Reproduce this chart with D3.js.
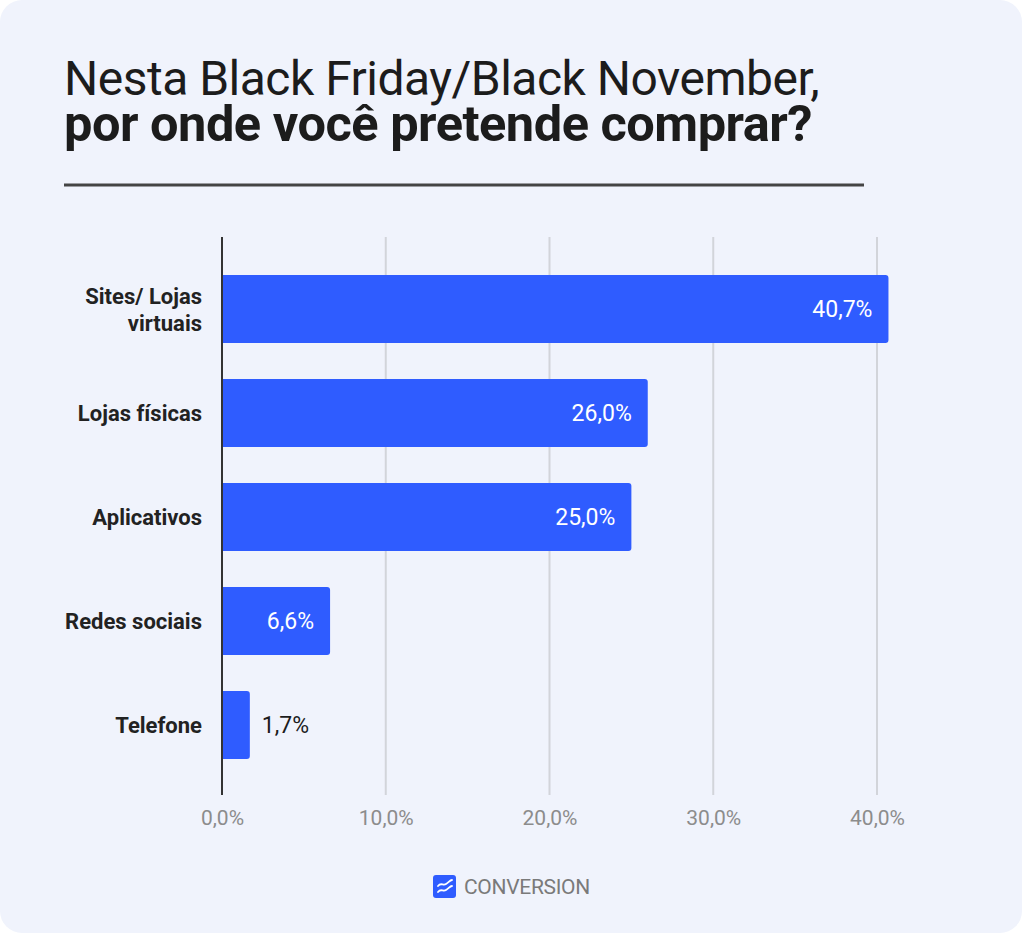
<!DOCTYPE html>
<html>
<head>
<meta charset="utf-8">
<script src="https://cdn.jsdelivr.net/npm/d3@7"></script>
<style>
  html, body { margin: 0; padding: 0; background: #ffffff; }
  svg { display: block; font-family: Roboto, "Noto Sans", sans-serif; }
</style>
</head>
<body>
<div id="chart"></div>
<script>
// Dados do gráfico
const categories = ["Sites/ Lojas virtuais", "Lojas físicas", "Aplicativos", "Redes sociais", "Telefone"];
const values = [40.7, 26.0, 25.0, 6.6, 1.7];
const ticks = [0, 10, 20, 30, 40];
const titleLine1 = "Nesta Black Friday/Black November,";
const titleLine2 = "por onde você pretende comprar?";

const width = 1024;
const height = 935;

const marginLeft = 222;
const xEnd = 877;
const gridTop = 237;
const gridBottom = 795;

const data = categories.map((c, i) => ({ name: c, value: values[i] }));
const fmt = v => v.toFixed(1).replace(".", ",") + "%";

const svg = d3.select("#chart")
  .append("svg")
    .attr("width", width)
    .attr("height", height)
    .attr("viewBox", [0, 0, width, height]);

// Cartão de fundo
svg.append("rect")
    .attr("x", 0).attr("y", 0)
    .attr("width", 1022).attr("height", 933)
    .attr("rx", 22)
    .attr("fill", "#f0f3fc");

// Título (ajusta a largura à do original)
const fitText = (sel, target) => {
  const w = sel.node().getComputedTextLength();
  const fs = parseFloat(sel.attr("font-size"));
  sel.attr("font-size", fs * target / w);
};
svg.append("text")
    .attr("x", 64).attr("y", 95)
    .attr("font-size", 40)
    .attr("fill", "#1c1c1c")
    .attr("letter-spacing", -0.5)
    .text(titleLine1)
    .call(t => fitText(t, 752));
svg.append("text")
    .attr("x", 64).attr("y", 141)
    .attr("font-size", 40)
    .attr("font-weight", 700)
    .attr("fill", "#1c1c1c")
    .attr("letter-spacing", -0.5)
    .text(titleLine2)
    .call(t => fitText(t, 744));

// Linha abaixo do título
svg.append("line")
    .attr("x1", 64).attr("x2", 864)
    .attr("y1", 185).attr("y2", 185)
    .attr("stroke", "#444").attr("stroke-width", 3);

// Escalas
const x = d3.scaleLinear()
    .domain([0, 40])
    .range([marginLeft, xEnd]);

const y = d3.scaleBand()
    .domain(categories)
    .range([257, 777])
    .paddingInner(0.346)
    .paddingOuter(0.173);

// Grade
svg.append("g")
    .attr("stroke", "#d2d4da")
    .attr("stroke-width", 2)
  .selectAll()
  .data(ticks.slice(1))
  .join("line")
    .attr("x1", d => x(d)).attr("x2", d => x(d))
    .attr("y1", gridTop).attr("y2", gridBottom);

// Rótulos do eixo x
svg.append("g")
    .attr("transform", `translate(0,${gridBottom})`)
    .call(d3.axisBottom(x).tickValues(ticks).tickFormat(fmt).tickSize(0).tickPadding(15))
    .call(g => g.select(".domain").remove())
    .call(g => g.selectAll("text")
      .attr("font-size", 21)
      .attr("font-family", "Roboto, sans-serif")
      .attr("fill", "#8c8c8c"));

// Barras com cantos direitos arredondados
const r = 3;
const barPath = (x0, x1, y0, h) => {
  const rr = Math.min(r, (x1 - x0) / 2);
  return `M${x0},${y0}H${x1 - rr}Q${x1},${y0} ${x1},${y0 + rr}V${y0 + h - rr}Q${x1},${y0 + h} ${x1 - rr},${y0 + h}H${x0}Z`;
};
svg.append("g")
    .attr("fill", "#2f5cff")
  .selectAll()
  .data(data)
  .join("path")
    .attr("d", d => barPath(x(0), x(d.value), y(d.name), y.bandwidth()));

// Eixo vertical
svg.append("line")
    .attr("x1", x(0)).attr("x2", x(0))
    .attr("y1", gridTop).attr("y2", gridBottom)
    .attr("stroke", "#333").attr("stroke-width", 2);

// Rótulos de valor
svg.append("g")
    .attr("font-size", 23)
  .selectAll()
  .data(data)
  .join("text")
    .attr("y", d => y(d.name) + y.bandwidth() / 2)
    .attr("dy", "0.35em")
    .attr("x", d => x(d.value) - 16)
    .attr("text-anchor", "end")
    .attr("fill", "#ffffff")
    .text(d => fmt(d.value))
  .call(text => text.filter(d => x(d.value) - x(0) < 60)
    .attr("x", d => x(d.value) + 12)
    .attr("text-anchor", "start")
    .attr("fill", "#1c1c1c"));

// Rótulos das categorias (com quebra de linha)
const wrap = { "Sites/ Lojas virtuais": ["Sites/ Lojas", "virtuais"] };
svg.append("g")
    .attr("font-size", 22)
    .attr("font-weight", 700)
    .attr("fill", "#222")
    .attr("text-anchor", "end")
  .selectAll()
  .data(categories)
  .join("text")
    .attr("x", 202)
    .attr("y", d => y(d) + y.bandwidth() / 2)
    .each(function(d) {
      const lines = wrap[d] || [d];
      const t = d3.select(this);
      lines.forEach((ln, i) => {
        t.append("tspan")
          .attr("x", 202)
          .attr("dy", i === 0 ? `${0.35 - (lines.length - 1) * 0.58}em` : "1.21em")
          .text(ln);
      });
    });

// Logo
const logo = svg.append("g").attr("transform", "translate(433,875)");
logo.append("rect")
    .attr("width", 23).attr("height", 23).attr("rx", 3)
    .attr("fill", "#2f5cff");
logo.append("path")
    .attr("d", "M5,11 C8,7 10,11 13,9 S17,5 19,5 M5,17 C8,13 10,17 13,15 S17,11 19,11")
    .attr("fill", "none").attr("stroke", "#fff").attr("stroke-width", 1.8)
    .attr("stroke-linecap", "round");
svg.append("text")
    .attr("x", 464).attr("y", 894)
    .attr("font-size", 21)
    .attr("fill", "#7a7a7a")
    .attr("letter-spacing", -0.3)
    .text("CONVERSION");
</script>
</body>
</html>
